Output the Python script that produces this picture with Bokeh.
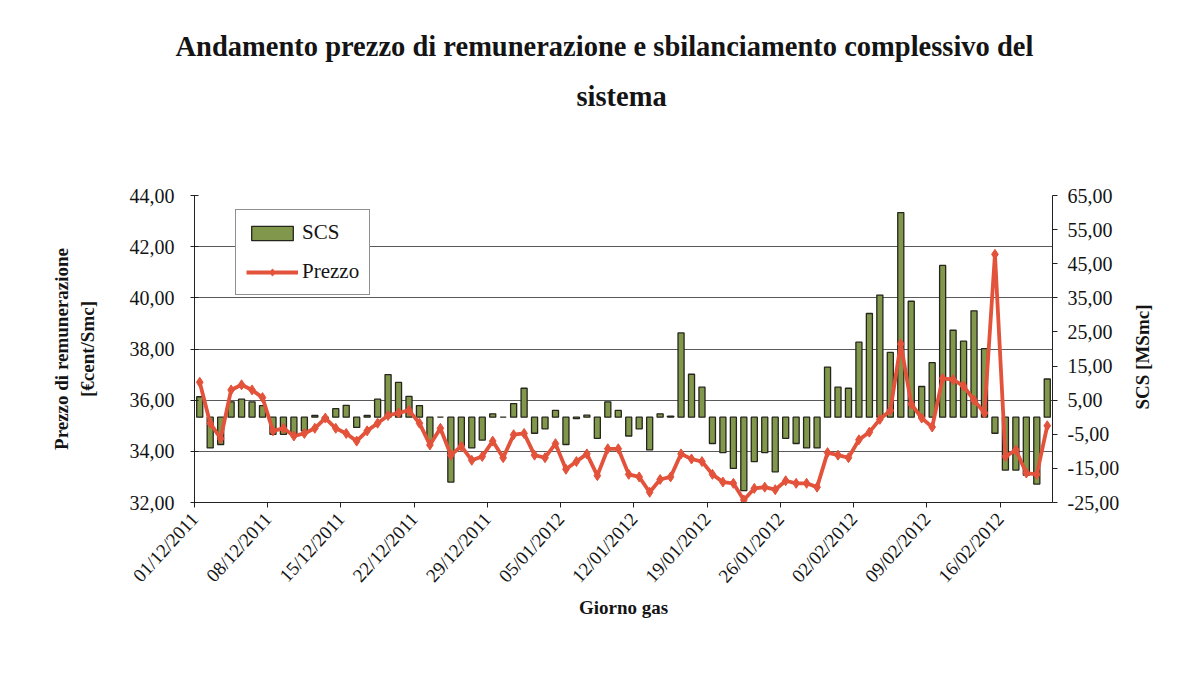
import math
from datetime import date, timedelta
from bokeh.plotting import figure
from bokeh.models import Range1d, LinearAxis, FixedTicker, Title, Legend, LegendItem
from bokeh.embed import file_html
from bokeh.resources import INLINE

# ---- data ----
days = [(date(2011, 12, 1) + timedelta(d)).strftime("%d/%m/%Y") for d in range(82)]

x_tick_labels = ["01/12/2011", "08/12/2011", "15/12/2011", "22/12/2011", "29/12/2011",
                 "05/01/2012", "12/01/2012", "19/01/2012", "26/01/2012", "02/02/2012",
                 "09/02/2012", "16/02/2012"]

prezzo = [36.7, 35.1, 34.5, 36.4, 36.6, 36.4, 36.1, 34.8, 34.9, 34.6,
          34.7, 34.9, 35.3, 34.9, 34.7, 34.4, 34.8, 35.1, 35.4, 35.5,
          35.6, 35.1, 34.25, 34.9, 33.85, 34.2, 33.65, 33.8, 34.4, 33.75,
          34.65, 34.7, 33.85, 33.75, 34.3, 33.3, 33.6, 33.9, 33.05, 34.1,
          34.1, 33.1, 33.0, 32.4, 32.9, 33.0, 33.9, 33.7, 33.6, 33.1,
          32.8, 32.75, 32.1, 32.55, 32.6, 32.5, 32.85, 32.75, 32.75, 32.6,
          33.95, 33.85, 33.75, 34.45, 34.75, 35.25, 35.6, 38.2, 35.85, 35.3,
          34.95, 36.85, 36.8, 36.55, 36.0, 35.5, 41.7, 33.8, 34.05, 33.15,
          33.1, 35.0]

scs = [6.0, -9.0, -8.0, 4.5, 5.3, 4.5, 3.4, -5.0, -5.0, -5.0,
       -4.0, 0.5, -1.0, 2.5, 3.5, -3.0, 0.5, 5.3, 12.5, 10.2,
       6.1, 3.4, -6.9, 0.0, -19.0, -8.5, -9.0, -6.7, 1.0, 0.0,
       4.0, 8.5, -4.7, -3.4, 2.0, -8.0, -0.4, 0.6, -6.2, 4.5,
       2.0, -5.5, -3.4, -9.6, 1.0, 0.3, 24.7, 12.6, 8.8, -7.7,
       -10.4, -15.0, -21.5, -13.0, -10.4, -16.0, -6.2, -7.7, -9.0, -9.0,
       14.7, 8.8, 8.5, 22.0, 30.4, 35.8, 19.0, 60.0, 34.0, 9.0,
       16.0, 44.5, 25.5, 22.3, 31.2, 20.1, -4.7, -15.5, -15.5, -17.0,
       -19.6, 11.2]

price_ticks = [32, 34, 36, 38, 40, 42, 44]
price_tick_labels = ["32,00", "34,00", "36,00", "38,00", "40,00", "42,00", "44,00"]
scs_ticks = [-25, -15, -5, 5, 15, 25, 35, 45, 55, 65]
scs_tick_labels = ["-25,00", "-15,00", "-5,00", "5,00", "15,00", "25,00",
                   "35,00", "45,00", "55,00", "65,00"]

title_line1 = "Andamento prezzo di remunerazione e sbilanciamento complessivo del"
title_line2 = "sistema"
left_label = "Prezzo di remunerazione\n[€cent/Smc]"
right_label = "SCS [MSmc]"
x_label = "Giorno gas"

# ---- styles ----
FONT = "Liberation Serif"
TXT = "#141414"
BAR_FILL = "#80974c"
BAR_LINE = "#26261c"
LINE_COL = "#e3523a"

W, H = 1166, 672
FL, FT, FR, FB = 194, 195, 1057, 502   # frame edges (px)

idx = list(range(len(days)))
x0, x1 = -0.5, len(days) - 0.5

p = figure(width=W, height=H,
           x_range=Range1d(x0, x1),
           y_range=Range1d(price_ticks[0], price_ticks[-1]),
           output_backend="svg", toolbar_location=None,
           min_border_left=FL, min_border_right=W - FR,
           min_border_top=FT, min_border_bottom=H - FB)
p.extra_y_ranges = {"scs": Range1d(scs_ticks[0], scs_ticks[-1])}
p.outline_line_color = None
p.background_fill_color = "white"

# titles: first added Title sits closest to the frame, plot title farthest
p.add_layout(Title(text=" ", text_font=FONT, text_font_size="1px",
                   standoff=74), "above")
p.add_layout(Title(text=title_line2, align="left", offset=576 - FL, text_font=FONT,
                   text_font_size="28.5px", text_font_style="bold",
                   text_color=TXT, standoff=14), "above")
p.title.text = title_line1
p.title.align = "left"
p.title.offset = 175 - FL
p.title.text_font = FONT
p.title.text_font_size = "28.5px"
p.title.text_font_style = "bold"
p.title.text_color = TXT
p.title.standoff = 20

# bars
bars = p.vbar(x=idx, top=scs, bottom=0, width=0.58, y_range_name="scs",
              fill_color=BAR_FILL, line_color=BAR_LINE, line_width=1.3)
# price line
ln = p.line(idx, prezzo, line_color=LINE_COL, line_width=3.8)
mk = p.scatter(idx, prezzo, marker="diamond", size=10, fill_color=LINE_COL,
               line_color=LINE_COL)

# x axis
xa = p.xaxis[0]
tick_pos = [days.index(t) - 0.5 for t in x_tick_labels]
xa.ticker = FixedTicker(ticks=tick_pos)
xa.major_label_overrides = {tp: lab for tp, lab in zip(tick_pos, x_tick_labels)}
xa.major_label_orientation = 0.83
xa.major_label_text_font = FONT
xa.major_label_text_font_size = "19px"
xa.major_label_text_color = TXT
xa.major_label_standoff = 8
xa.major_tick_in = 0
xa.major_tick_out = 5
xa.minor_tick_line_color = None
xa.axis_line_color = "#222222"
xa.major_tick_line_color = "#222222"
xa.axis_label = x_label
xa.axis_label_text_font = FONT
xa.axis_label_text_font_size = "19px"
xa.axis_label_text_font_style = "bold"
xa.axis_label_text_color = TXT
xa.axis_label_standoff = 0

# left axis
ya = p.yaxis[0]
ya.ticker = FixedTicker(ticks=price_ticks)
ya.major_label_overrides = {t: l for t, l in zip(price_ticks, price_tick_labels)}
ya.major_label_text_font = FONT
ya.major_label_text_font_size = "20px"
ya.major_label_text_color = TXT
ya.major_tick_in = 4
ya.major_tick_out = 4
ya.minor_tick_line_color = None
ya.axis_line_color = "#222222"
ya.major_tick_line_color = "#222222"
ya.major_label_standoff = 16
ya.axis_label = left_label
ya.axis_label_text_font = FONT
ya.axis_label_text_font_size = "19px"
ya.axis_label_text_font_style = "bold"
ya.axis_label_text_color = TXT
ya.axis_label_standoff = 29

# right axis (SCS)
ra = LinearAxis(y_range_name="scs")
ra.ticker = FixedTicker(ticks=scs_ticks)
ra.major_label_overrides = {t: l for t, l in zip(scs_ticks, scs_tick_labels)}
ra.major_label_text_font = FONT
ra.major_label_text_font_size = "20px"
ra.major_label_text_color = TXT
ra.major_tick_in = 0
ra.major_tick_out = 5
ra.minor_tick_line_color = None
ra.axis_line_color = "#222222"
ra.major_tick_line_color = "#222222"
ra.major_label_standoff = 10
p.add_layout(ra, "right")

# right axis title, reading bottom-to-top: a bare axis whose single label
# starts at the text's lower end
title_start = scs_ticks[0] + (scs_ticks[-1] - scs_ticks[0]) * (FB - 409) / (FB - FT)
rt = LinearAxis(y_range_name="scs")
rt.ticker = FixedTicker(ticks=[title_start])
rt.major_label_overrides = {title_start: right_label}
rt.major_label_orientation = math.pi / 2
rt.major_label_text_font = FONT
rt.major_label_text_font_size = "19px"
rt.major_label_text_font_style = "bold"
rt.major_label_text_color = TXT
rt.major_label_standoff = 20
rt.major_tick_in = 0
rt.major_tick_out = 0
rt.axis_line_color = None
rt.major_tick_line_color = None
rt.minor_tick_line_color = None
p.add_layout(rt, "right")

# grid
p.xgrid.grid_line_color = None
p.ygrid.ticker = FixedTicker(ticks=price_ticks)
p.ygrid.grid_line_color = "#5a5a5a"
p.ygrid.grid_line_width = 1

# legend
legend = Legend(items=[LegendItem(label="SCS", renderers=[bars]),
                       LegendItem(label="Prezzo", renderers=[ln, mk])],
                location=(41, 207))
legend.label_text_font = FONT
legend.label_text_font_size = "21px"
legend.label_text_color = TXT
legend.label_height = 22
legend.label_standoff = 4
legend.glyph_width = 52
legend.glyph_height = 18
legend.spacing = 14
legend.padding = 10
legend.margin = 0
legend.border_line_color = "#222222"
legend.border_line_width = 1
legend.background_fill_alpha = 1
p.add_layout(legend, "center")

open("out.html", "w").write(file_html(p, INLINE))
